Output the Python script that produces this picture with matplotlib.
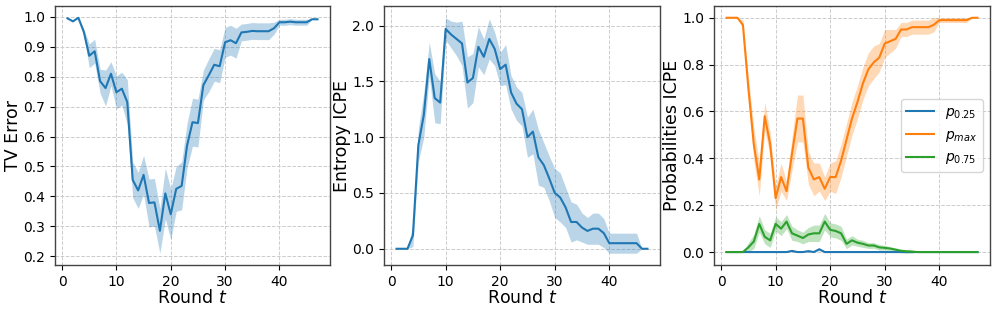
import matplotlib
matplotlib.use('Agg')

import numpy as np
import matplotlib.pyplot as plt

# rounds
rounds = np.arange(1, 48)

# TV error: mean and band half-width
tv_mean = [0.995, 0.985, 0.997, 0.95, 0.87, 0.885, 0.785, 0.762, 0.81, 0.748,
           0.76, 0.715, 0.455, 0.42, 0.472, 0.378, 0.38, 0.285, 0.41, 0.34,
           0.425, 0.435, 0.57, 0.648, 0.645, 0.772, 0.805, 0.84, 0.835, 0.915,
           0.922, 0.912, 0.948, 0.95, 0.953, 0.952, 0.952, 0.952, 0.962, 0.982,
           0.982, 0.984, 0.982, 0.982, 0.982, 0.992, 0.992]
tv_err = [0.0, 0.0, 0.0, 0.01, 0.04, 0.04, 0.04, 0.06, 0.04, 0.055,
          0.055, 0.075, 0.06, 0.06, 0.065, 0.08, 0.08, 0.075, 0.085, 0.085,
          0.075, 0.08, 0.075, 0.08, 0.08, 0.05, 0.055, 0.055, 0.055, 0.05,
          0.05, 0.05, 0.028, 0.028, 0.028, 0.028, 0.028, 0.028, 0.02, 0.01,
          0.01, 0.01, 0.01, 0.01, 0.01, 0.0, 0.0]

# entropy ICPE
ent_mean = [0.0, 0.0, 0.0, 0.12, 0.93, 1.2, 1.70, 1.35, 1.31, 1.97,
            1.92, 1.88, 1.84, 1.49, 1.53, 1.81, 1.72, 1.88, 1.79, 1.61,
            1.65, 1.40, 1.30, 1.25, 1.00, 1.05, 0.82, 0.75, 0.63, 0.50,
            0.46, 0.37, 0.24, 0.24, 0.19, 0.16, 0.18, 0.18, 0.14, 0.05,
            0.05, 0.05, 0.05, 0.05, 0.05, 0.0, 0.0]
ent_err = [0.0, 0.0, 0.0, 0.1, 0.15, 0.2, 0.15, 0.22, 0.19, 0.1,
           0.12, 0.15, 0.2, 0.23, 0.22, 0.18, 0.16, 0.18, 0.15, 0.15,
           0.18, 0.15, 0.15, 0.15, 0.18, 0.2, 0.25, 0.2, 0.2, 0.22,
           0.22, 0.18, 0.18, 0.16, 0.13, 0.12, 0.14, 0.14, 0.13, 0.09,
           0.09, 0.09, 0.09, 0.09, 0.09, 0.0, 0.0]

# probabilities ICPE
p025_mean = [0.0] * 12 + [0.005, 0.0, 0.0, 0.004, 0.0, 0.012] + [0.0] * 29
p025_err = [0.0] * 12 + [0.004, 0.0, 0.0, 0.004, 0.0, 0.006] + [0.0] * 29

pmax_mean = [1.0, 1.0, 1.0, 0.97, 0.70, 0.46, 0.31, 0.58, 0.46, 0.23,
             0.32, 0.26, 0.42, 0.57, 0.57, 0.36, 0.31, 0.32, 0.27, 0.32,
             0.32, 0.39, 0.48, 0.57, 0.64, 0.72, 0.78, 0.81, 0.83, 0.89,
             0.90, 0.91, 0.95, 0.95, 0.96, 0.96, 0.96, 0.96, 0.97, 0.99,
             0.99, 0.99, 0.99, 0.99, 0.99, 1.0, 1.0]
pmax_err = [0.0, 0.0, 0.0, 0.02, 0.05, 0.07, 0.07, 0.06, 0.05, 0.05,
            0.06, 0.04, 0.07, 0.10, 0.10, 0.07, 0.07, 0.06, 0.05, 0.06,
            0.07, 0.07, 0.07, 0.07, 0.07, 0.07, 0.07, 0.07, 0.06, 0.06,
            0.05, 0.04, 0.03, 0.03, 0.03, 0.03, 0.03, 0.03, 0.03, 0.01,
            0.01, 0.01, 0.01, 0.01, 0.01, 0.0, 0.0]

p075_mean = [0.0, 0.0, 0.0, 0.0, 0.02, 0.045, 0.12, 0.065, 0.05, 0.12,
             0.10, 0.13, 0.08, 0.07, 0.06, 0.075, 0.08, 0.08, 0.13, 0.095,
             0.09, 0.08, 0.035, 0.05, 0.04, 0.035, 0.028, 0.028, 0.02, 0.018,
             0.015, 0.01, 0.005, 0.003, 0.002, 0.0, 0.0, 0.0, 0.0, 0.0,
             0.0, 0.0, 0.0, 0.0, 0.0, 0.0, 0.0]
p075_err = [0.0, 0.0, 0.0, 0.0, 0.02, 0.03, 0.035, 0.03, 0.03, 0.03,
            0.03, 0.03, 0.03, 0.025, 0.025, 0.03, 0.035, 0.035, 0.035, 0.03,
            0.03, 0.03, 0.02, 0.02, 0.015, 0.015, 0.012, 0.012, 0.012, 0.01,
            0.008, 0.008, 0.008, 0.008, 0.006, 0.0, 0.0, 0.0, 0.0, 0.0,
            0.0, 0.0, 0.0, 0.0, 0.0, 0.0, 0.0]


def band(ax, mean, err, color, label=None):
    mean = np.array(mean)
    err = np.array(err)
    ax.plot(rounds, mean, color=color, linewidth=1.5, label=label)
    ax.fill_between(rounds, mean - err, mean + err, color=color, alpha=0.3, linewidth=0)


def style(ax, ylabel):
    ax.grid(color='#cccccc', linestyle='--', linewidth=0.7)
    ax.set_axisbelow(True)
    for s in ax.spines.values():
        s.set_color('#444444')
        s.set_linewidth(1.0)
    ax.tick_params(labelsize=10)
    ax.set_xticks([0, 10, 20, 30, 40])
    ax.set_xlabel('Round $t$', fontsize=12.5, labelpad=0.5)
    ax.set_ylabel(ylabel, fontsize=12.5, labelpad=1)


fig = plt.figure(figsize=(9.97, 3.11), dpi=100)
H = 311.0
W = 997.0
ax1 = fig.add_axes([55 / W, 46 / H, 275 / W, 259 / H])
ax2 = fig.add_axes([384 / W, 46 / H, 276 / W, 259 / H])
ax3 = fig.add_axes([714 / W, 46 / H, 276 / W, 259 / H])

band(ax1, tv_mean, tv_err, '#1f77b4')
style(ax1, 'TV Error')

band(ax2, ent_mean, ent_err, '#1f77b4')
style(ax2, 'Entropy ICPE')

band(ax3, p025_mean, p025_err, '#1f77b4', '$p_{0.25}$')
band(ax3, pmax_mean, pmax_err, '#ff7f0e', '$p_{max}$')
band(ax3, p075_mean, p075_err, '#2ca02c', '$p_{0.75}$')
style(ax3, 'Probabilities ICPE')
ax3.legend(loc='center right', fontsize=10)

plt.savefig('out.png', dpi=100)
plt.close()
